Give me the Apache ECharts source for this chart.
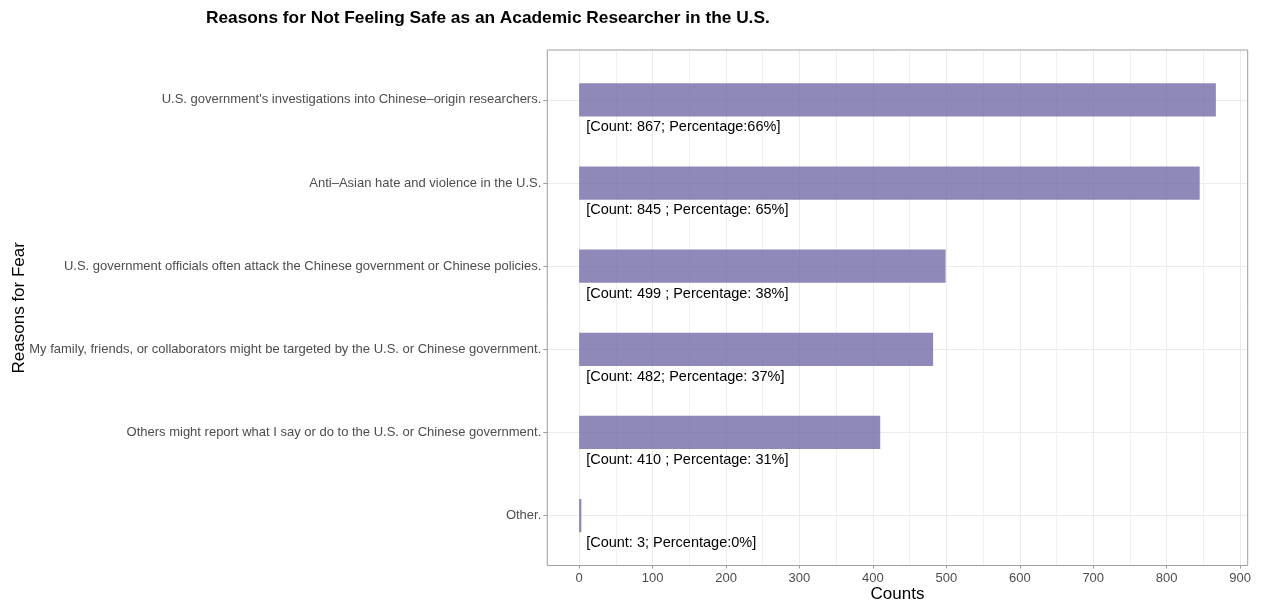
<!DOCTYPE html>
<html>
<head>
<meta charset="utf-8">
<script src="https://cdn.jsdelivr.net/npm/echarts@6/dist/echarts.min.js"></script>
<style>html,body{margin:0;padding:0;background:#fff}#c{width:1262px;height:606px}</style>
</head>
<body>
<div id="c"></div>
<script>
const categories = [
  "U.S. government's investigations into Chinese\u2013origin researchers.",
  "Anti\u2013Asian hate and violence in the U.S.",
  "U.S. government officials often attack the Chinese government or Chinese policies.",
  "My family, friends, or collaborators might be targeted by the U.S. or Chinese government.",
  "Others might report what I say or do to the U.S. or Chinese government.",
  "Other."
];
const counts = [867, 845, 499, 482, 410, 3];
const labels = [
  "[Count: 867; Percentage:66%]",
  "[Count: 845 ; Percentage: 65%]",
  "[Count: 499 ; Percentage: 38%]",
  "[Count: 482; Percentage: 37%]",
  "[Count: 410 ; Percentage: 31%]",
  "[Count: 3; Percentage:0%]"
];
const xTickMin = 0, xTickMax = 900, xTickStep = 100;

const data = counts.map((v, i) => [v, i + 1]);
const font = '"Liberation Sans", Arial, Helvetica, sans-serif';
const borderGrey = '#9e9e9e';
const chart = echarts.init(document.getElementById('c'), null, {renderer: 'canvas'});
chart.setOption({
  animation: false,
  backgroundColor: '#ffffff',
  title: {
    text: 'Reasons for Not Feeling Safe as an Academic Researcher in the U.S.',
    left: 201, top: 5,
    textStyle: {fontFamily: font, fontSize: 17.3, fontWeight: 'bold', color: '#000'}
  },
  grid: [
    // panel (data + border)
    {left: 547.3, right: 14.3, top: 50, bottom: 40.5, show: true, borderColor: borderGrey, borderWidth: 1, backgroundColor: 'transparent', z: 3, containLabel: false, outerBoundsMode: 'none'},
    // x-axis guides
    {left: 579.14, right: 21.9, top: 50, bottom: 40.5, containLabel: false, outerBoundsMode: 'none'},
    // y-axis guides
    {left: 547.3, right: 14.3, top: 99.89, bottom: 90.39, containLabel: false, outerBoundsMode: 'none'}
  ],
  xAxis: [
    {
      gridIndex: 0, type: 'value', min: -43.35, max: 910.35,
      name: 'Counts', nameLocation: 'middle', nameGap: 20,
      nameTextStyle: {fontFamily: font, fontSize: 17, color: '#000'},
      axisLine: {show: false}, axisTick: {show: false}, axisLabel: {show: false}, splitLine: {show: false}
    },
    {
      gridIndex: 1, type: 'value', min: xTickMin, max: xTickMax, interval: xTickStep,
      axisLine: {show: false},
      axisTick: {show: true, length: 3, lineStyle: {color: borderGrey}},
      axisLabel: {fontFamily: font, fontSize: 13, color: '#4d4d4d', margin: 6},
      splitLine: {show: true, lineStyle: {color: '#ebebeb', width: 1}},
      minorTick: {show: false, splitNumber: 2},
      minorSplitLine: {show: true, lineStyle: {color: '#f1f1f1', width: 1}}
    },
    {gridIndex: 2, type: 'value', min: 0, max: 1, show: false}
  ],
  yAxis: [
    {gridIndex: 0, type: 'value', min: 0.4, max: 6.6, inverse: true, show: false},
    {gridIndex: 1, type: 'value', min: 0, max: 1, show: false},
    {
      gridIndex: 2, type: 'value', min: 1, max: categories.length, interval: 1, inverse: true,
      name: 'Reasons for Fear', nameLocation: 'middle', nameGap: 519, nameRotate: 90, nameMoveOverlap: false,
      nameTextStyle: {fontFamily: font, fontSize: 17, color: '#000'},
      axisLine: {show: false},
      axisTick: {show: true, length: 4, lineStyle: {color: borderGrey}},
      axisLabel: {fontFamily: font, fontSize: 13, color: '#4d4d4d', margin: 6,
        formatter: v => categories[Math.round(v) - 1] || ''},
      splitLine: {show: true, lineStyle: {color: '#ebebeb', width: 1}}
    }
  ],
  series: [{
    type: 'custom',
    xAxisIndex: 0, yAxisIndex: 0,
    data: data,
    encode: {x: 0, y: 1},
    z: 2,
    renderItem: (params, api) => {
      const v = api.value(0), y = api.value(1);
      const s = api.coord([0, y]);
      const e = api.coord([v, y]);
      const h = api.size([0, 0.4])[1];
      const lp = api.coord([0, y + 0.33]);
      return {
        type: 'group',
        children: [
          {type: 'rect', shape: {x: s[0], y: s[1] - h / 2, width: Math.max(e[0] - s[0], 1.5), height: h},
           style: {fill: 'rgba(115,108,168,0.8)'}},
          {type: 'text', x: lp[0] + 7, y: lp[1],
           style: {text: labels[params.dataIndex], fontFamily: font, fontSize: 14.5, fill: '#000', textAlign: 'left', textVerticalAlign: 'middle'}}
        ]
      };
    }
  }]
});
</script>
</body>
</html>
